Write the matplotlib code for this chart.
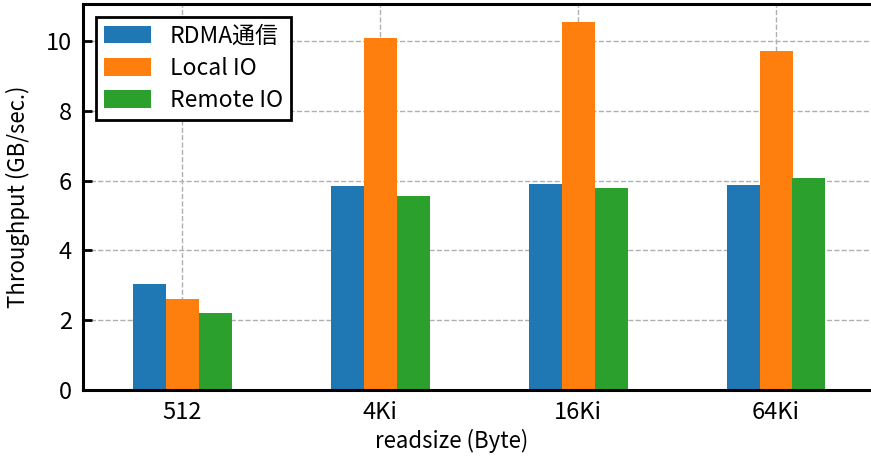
import numpy as np
import matplotlib
matplotlib.use("Agg")
import matplotlib.pyplot as plt

plt.rcParams['font.family'] = ['Noto Sans CJK JP', 'DejaVu Sans']

categories = ["512", "4Ki", "16Ki", "64Ki"]
series_names = ["RDMA通信", "Local IO", "Remote IO"]
rdma = [3.04, 5.85, 5.90, 5.87]
local_io = [2.61, 10.09, 10.54, 9.71]
remote_io = [2.21, 5.56, 5.79, 6.07]
colors = ["#1f77b4", "#ff7f0e", "#2ca02c"]

W, H = 871, 457
fig = plt.figure(figsize=(W / 100, H / 100), dpi=100)
ax = fig.add_axes([83 / W, (H - 390) / H, 792 / W, 386 / H])

x = np.arange(len(categories))
w = 1 / 6
for i, (vals, name) in enumerate(zip([rdma, local_io, remote_io], series_names)):
    ax.bar(x + (i - 1) * w, vals, width=w, color=colors[i], label=name, zorder=2)

ax.set_xlim(-0.5, 3.5)
ax.set_xticks(x)
ax.set_xticklabels(categories)
ax.set_yticks([0, 2, 4, 6, 8, 10])
ax.grid(True, linestyle='--', color='#b0b0b0', linewidth=1, zorder=0)
ax.set_axisbelow(True)
ax.tick_params(direction='in', length=6.5, width=2, labelsize=17, pad=8)
for s in ax.spines.values():
    s.set_linewidth(2.2)
ax.set_xlabel("readsize (Byte)", fontsize=16)
ax.set_ylabel("Throughput (GB/sec.)", fontsize=16)
ax.yaxis.set_label_coords(-0.067, 0.5)
ax.xaxis.set_label_coords(0.465, -0.102)

leg = ax.legend(loc='upper left', fontsize=16.5, fancybox=False, framealpha=1,
                edgecolor='black', handlelength=2.05, handleheight=0.8,
                borderpad=0.35, labelspacing=0.4, handletextpad=0.85,
                bbox_to_anchor=(0.0, 1.0), borderaxespad=0.55)
leg.get_frame().set_linewidth(2)

fig.savefig("out.png", dpi=100)
